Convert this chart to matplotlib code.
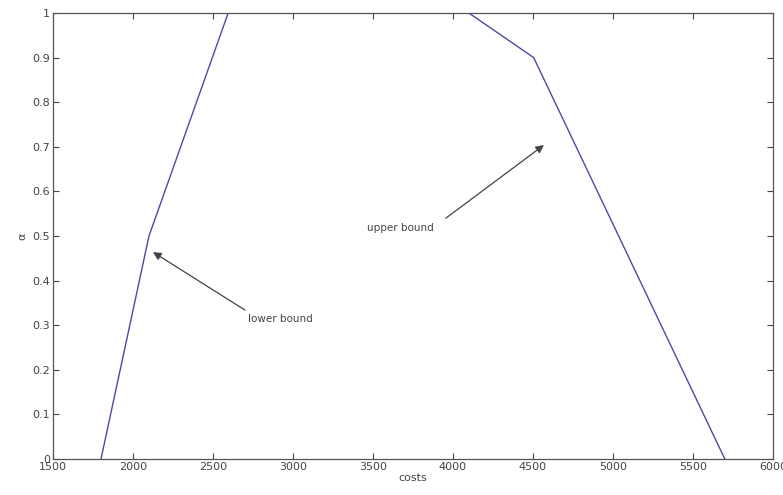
import matplotlib
matplotlib.use("Agg")
import matplotlib.pyplot as plt

lower_x = [1800, 2100, 2595]
lower_a = [0.0, 0.5, 1.0]
upper_x = [4100, 4505, 5700]
upper_a = [1.0, 0.9, 0.0]

xticks = [1500, 2000, 2500, 3000, 3500, 4000, 4500, 5000, 5500, 6000]
yticks = [0, 0.1, 0.2, 0.3, 0.4, 0.5, 0.6, 0.7, 0.8, 0.9, 1]
ytick_labels = ["0", "0.1", "0.2", "0.3", "0.4", "0.5", "0.6", "0.7", "0.8", "0.9", "1"]

fig = plt.figure(figsize=(7.83, 4.95), dpi=100)
ax = fig.add_axes([0.0677, 0.0727, 0.9193, 0.901])
line_color = "#4a4aa8"
ax.plot(lower_x, lower_a, color=line_color, lw=1.0)
ax.plot(upper_x, upper_a, color=line_color, lw=1.0)

ax.set_xlim(1500, 6000)
ax.set_ylim(0, 1)
ax.set_xticks(xticks)
ax.set_xticklabels([str(t) for t in xticks])
ax.set_yticks(yticks)
ax.set_yticklabels(ytick_labels)
ax.tick_params(direction="in", top=True, right=True, labelsize=8, colors="#444444",
               length=4, width=0.8, pad=2)
for s in ax.spines.values():
    s.set_color("#555555")
    s.set_linewidth(0.9)

ax.set_xlabel("costs", fontsize=8, color="#444444", labelpad=1)
ax.set_ylabel("α", fontsize=8, color="#444444", labelpad=4)

arrowprops = dict(arrowstyle="-|>", color="#444444", lw=0.9, mutation_scale=12,
                  shrinkA=0, shrinkB=0)
ax.annotate("", xy=(2125, 0.464), xytext=(2700, 0.334), arrowprops=arrowprops)
ax.text(2719, 0.314, "lower bound", fontsize=7.5, color="#444444", va="center", ha="left")
ax.annotate("", xy=(4569, 0.704), xytext=(3956, 0.54), arrowprops=arrowprops)
ax.text(3462, 0.518, "upper bound", fontsize=7.5, color="#444444", va="center", ha="left")

fig.savefig("out.png", dpi=100, facecolor="white")
